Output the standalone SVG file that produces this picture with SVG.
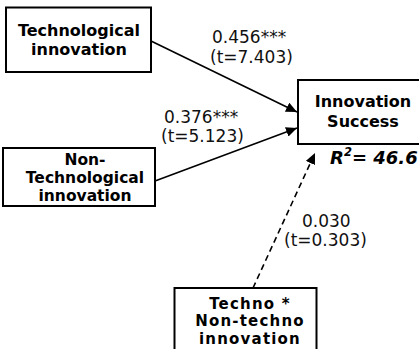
<svg xmlns="http://www.w3.org/2000/svg" width="419" height="349" viewBox="0 0 419 349">
  <style>
    .box { fill: #ffffff; stroke: #000000; stroke-width: 2; }
    .name { font-family: "DejaVu Sans", "Liberation Sans", sans-serif; font-weight: bold; font-size: 16px; fill: #000000; text-anchor: middle; }
    .small { font-size: 15.5px; }
    .tight { font-size: 15px; letter-spacing: 1.2px; }
    .coef { font-family: "DejaVu Sans", "Liberation Sans", sans-serif; font-size: 17px; fill: #111111; }
    .edge { fill: none; stroke: #000000; stroke-width: 1.6; }
    .dashed { stroke-dasharray: 6 4; }
  </style>
  <defs>
    <marker id="arrow" markerUnits="userSpaceOnUse" markerWidth="12" markerHeight="10" refX="11" refY="5" orient="auto">
      <path d="M0,0 L11,5 L0,10 z" fill="#000000"/>
    </marker>
  </defs>
  <rect width="419" height="349" fill="#ffffff"/>

  <g id="connectors">
    <line class="edge" x1="151" y1="41" x2="297" y2="112" marker-end="url(#arrow)"/>
    <line class="edge" x1="155" y1="181" x2="297" y2="128" marker-end="url(#arrow)"/>
    <line class="edge dashed" x1="253" y1="288" x2="315" y2="153" marker-end="url(#arrow)"/>
    <text class="coef" x="212" y="43">0.456***</text>
    <text class="coef" x="210" y="63">(t=7.403)</text>
    <text class="coef" x="164" y="123">0.376***</text>
    <text class="coef" x="161" y="142">(t=5.123)</text>
    <text class="coef" x="302" y="227">0.030</text>
    <text class="coef" x="284" y="246">(t=0.303)</text>
  </g>

  <g id="tech">
    <rect class="box" x="6" y="7.5" width="145" height="64.5"/>
    <text class="name" x="79" y="36">Technological</text>
    <text class="name" x="79" y="55">innovation</text>
  </g>

  <g id="nontech">
    <rect class="box" x="3" y="148" width="152" height="58"/>
    <text class="name small" x="85" y="164.5">Non-</text>
    <text class="name small" x="85" y="182.5">Technological</text>
    <text class="name small" x="85" y="200.5">innovation</text>
  </g>

  <g id="success">
    <rect class="box" x="298" y="80" width="140" height="64"/>
    <text class="name" x="363" y="107">Innovation</text>
    <text class="name" x="363" y="127">Success</text>
    <text x="330" y="163.5" font-family="DejaVu Sans, sans-serif" font-weight="bold" font-style="italic" font-size="18">R<tspan font-size="11.5" dy="-7.5">2</tspan><tspan dy="7.5">= 46.6</tspan></text>
  </g>

  <g id="interaction">
    <rect class="box" x="174.5" y="288" width="142" height="80"/>
    <text class="name tight" x="250" y="308.5">Techno *</text>
    <text class="name tight" x="250" y="326">Non-techno</text>
    <text class="name tight" x="250" y="343.5">innovation</text>
  </g>
</svg>
